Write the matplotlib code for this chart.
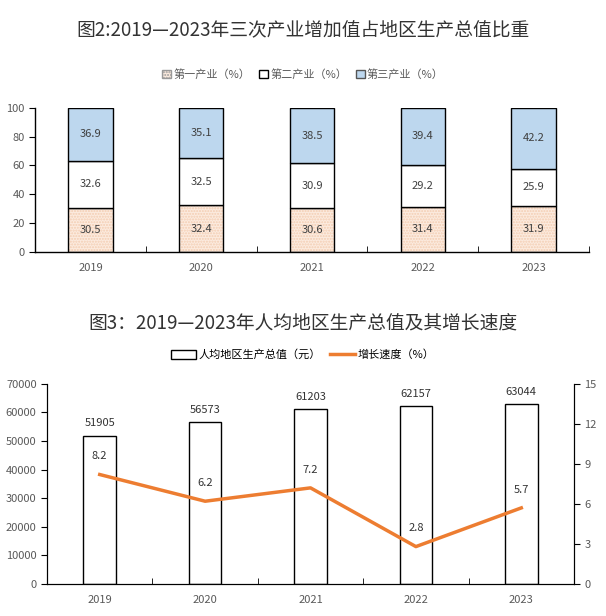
import matplotlib
matplotlib.use('Agg')
import matplotlib.pyplot as plt
import numpy as np
from matplotlib.patches import Patch
from matplotlib.lines import Line2D

plt.rcParams['font.family'] = ['Noto Sans CJK SC', 'DejaVu Sans']

# data
years = ['2019', '2020', '2021', '2022', '2023']
primary = [30.5, 32.4, 30.6, 31.4, 31.9]
secondary = [32.6, 32.5, 30.9, 29.2, 25.9]
tertiary = [36.9, 35.1, 38.5, 39.4, 42.2]
gdp_per_capita = [51905, 56573, 61203, 62157, 63044]
growth = [8.2, 6.2, 7.2, 2.8, 5.7]

grey = '#595959'
fig = plt.figure(figsize=(6.06, 6.16), dpi=100)

# ---- chart 2: stacked share ----
ax1 = fig.add_axes([0.058, 0.591, 0.914, 0.234])
x = np.arange(len(years))
w = 0.4
b1 = np.array(primary)
b2 = b1 + np.array(secondary)
ax1.bar(x, primary, w, color='#fcebdf', edgecolor='#f3cdb2', hatch='......', linewidth=0)
ax1.bar(x, primary, w, color='none', edgecolor='black', linewidth=1)
ax1.bar(x, secondary, w, bottom=b1, color='white', edgecolor='black', linewidth=1)
ax1.bar(x, tertiary, w, bottom=b2, color='#bdd7ee', edgecolor='black', linewidth=1)
for i in range(len(years)):
    ax1.text(x[i], primary[i] / 2, f'{primary[i]:.1f}', ha='center', va='center', fontsize=8, color='#404040')
    ax1.text(x[i], b1[i] + secondary[i] / 2, f'{secondary[i]:.1f}', ha='center', va='center', fontsize=8, color='#404040')
    ax1.text(x[i], b2[i] + tertiary[i] / 2, f'{tertiary[i]:.1f}', ha='center', va='center', fontsize=8, color='#404040')
ax1.set_xlim(-0.5, 4.5)
ax1.set_ylim(0, 100)
ax1.set_yticks(range(0, 101, 20))
ax1.set_xticks(x)
ax1.set_xticklabels(years)
ax1.set_xticks(np.arange(0.5, 4.6, 1), minor=True)
ax1.tick_params(axis='x', which='major', length=0, pad=8, labelsize=8, labelcolor=grey)
ax1.tick_params(axis='x', which='minor', direction='in', length=4)
ax1.tick_params(axis='y', direction='out', length=4, labelsize=8, labelcolor=grey)
for s in ['top', 'right']:
    ax1.spines[s].set_visible(False)
for s in ['left', 'bottom']:
    ax1.spines[s].set_linewidth(1)

fig.text(0.5, 0.951, '图2:2019—2023年三次产业增加值占地区生产总值比重', ha='center', va='center', fontsize=13.5, color='#333333')
h1 = [Patch(facecolor='#fcebdf', edgecolor='#999999', hatch='......'),
      Patch(facecolor='white', edgecolor='black'),
      Patch(facecolor='#bdd7ee', edgecolor='#555555')]
fig.legend(h1, ['第一产业（%）', '第二产业（%）', '第三产业（%）'], loc='center', bbox_to_anchor=(0.5, 0.879),
           ncol=3, frameon=False, fontsize=8, handlelength=0.8, handleheight=0.8, handletextpad=0.2,
           columnspacing=0.8, labelcolor=grey)

# ---- chart 3: per capita GDP ----
ax2 = fig.add_axes([0.0776, 0.052, 0.8696, 0.325])
ax2.bar(x, gdp_per_capita, 0.31, color='white', edgecolor='black', linewidth=1, zorder=2)
for i in range(len(years)):
    ax2.text(x[i], gdp_per_capita[i] + 2500, str(gdp_per_capita[i]), ha='center', va='bottom', fontsize=8, color='#333333')
ax2.set_xlim(-0.5, 4.5)
ax2.set_ylim(0, 70000)
ax2.set_yticks(range(0, 70001, 10000))
ax2.set_xticks(x)
ax2.set_xticklabels(years)
ax2.set_xticks(np.arange(0.5, 4.6, 1), minor=True)
ax2.tick_params(axis='x', which='major', length=0, pad=8, labelsize=8, labelcolor=grey)
ax2.tick_params(axis='x', which='minor', direction='in', length=4)
ax2.tick_params(axis='y', direction='out', length=4, labelsize=8, labelcolor=grey)
ax2.spines['top'].set_visible(False)

ax3 = ax2.twinx()
ax3.plot(x, growth, color='#ed7d31', linewidth=2.5, zorder=3)
for i in range(len(years)):
    ax3.text(x[i], growth[i] + 1.0, f'{growth[i]:.1f}', ha='center', va='bottom', fontsize=8, color='#333333')
ax3.set_ylim(0, 15)
ax3.set_yticks(range(0, 16, 3))
ax3.tick_params(axis='y', direction='out', length=4, labelsize=8, labelcolor=grey)
ax3.spines['top'].set_visible(False)

fig.text(0.5, 0.476, '图3：2019—2023年人均地区生产总值及其增长速度', ha='center', va='center', fontsize=13.5, color='#333333')
h2 = [Patch(facecolor='white', edgecolor='black'),
      Line2D([0], [0], color='#ed7d31', linewidth=2.5)]
fig.legend(h2, ['人均地区生产总值（元）', '增长速度（%）'], loc='center', bbox_to_anchor=(0.5, 0.424),
           ncol=2, frameon=False, fontsize=8, handlelength=2.2, handleheight=0.8, handletextpad=0.3,
           columnspacing=0.8)

fig.savefig('out.png', dpi=100)
